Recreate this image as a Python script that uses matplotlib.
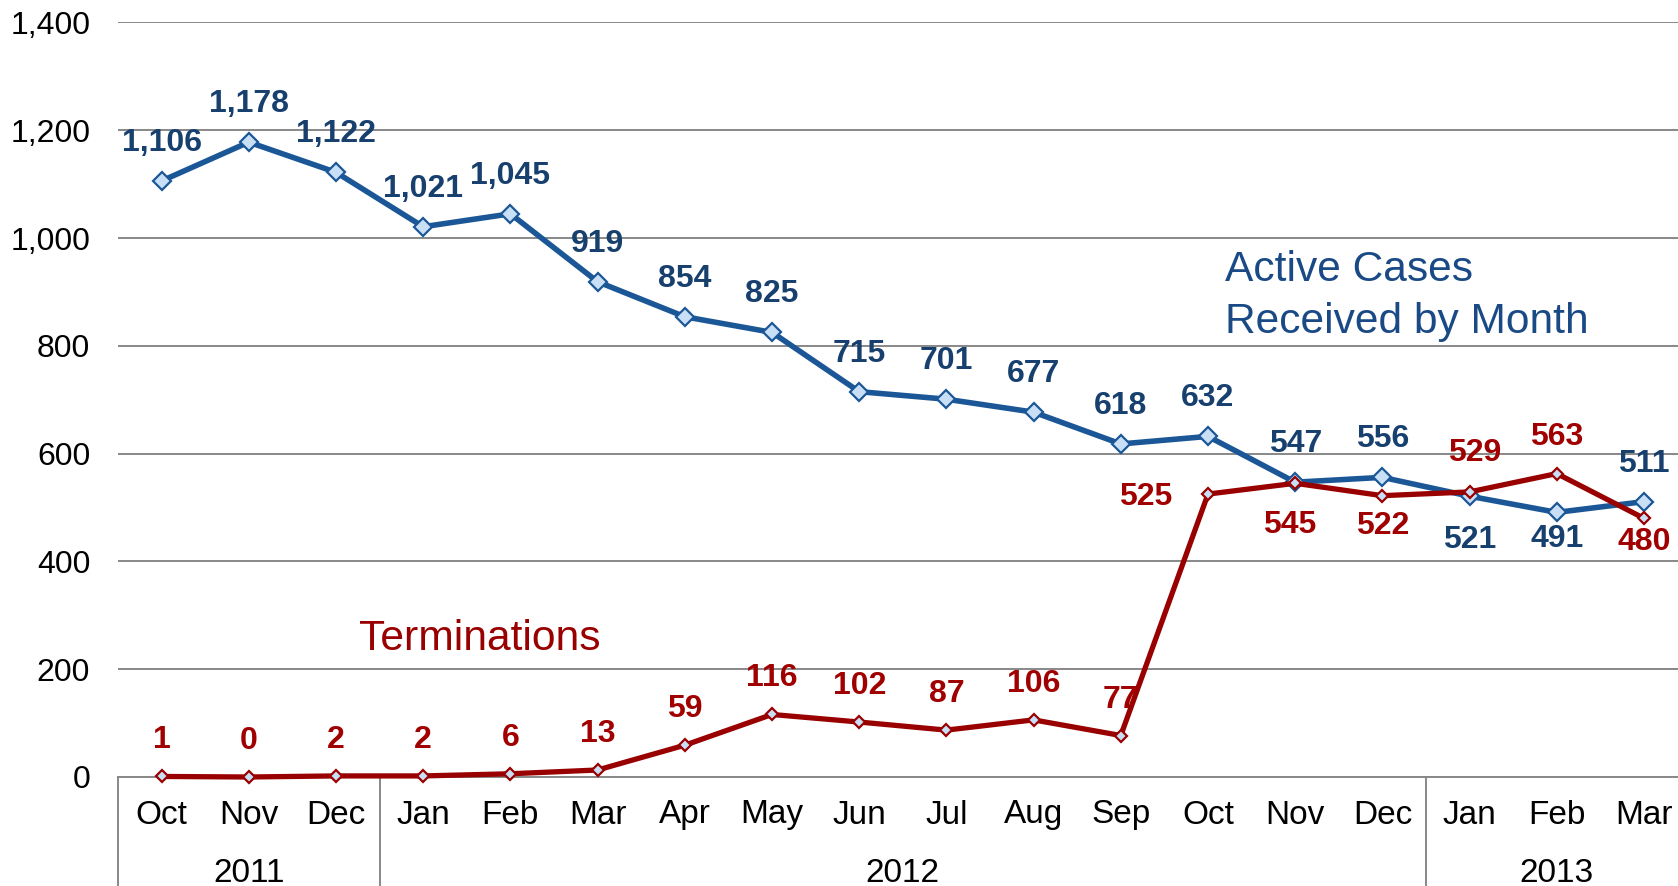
import matplotlib
matplotlib.use("Agg")
import matplotlib.pyplot as plt
from matplotlib.ticker import FuncFormatter

plt.rcParams['font.family'] = ['Liberation Sans', 'DejaVu Sans']

months = ["Oct", "Nov", "Dec", "Jan", "Feb", "Mar", "Apr", "May", "Jun",
          "Jul", "Aug", "Sep", "Oct", "Nov", "Dec", "Jan", "Feb", "Mar"]
years = ["2011", "2012", "2013"]
year_centers = [1, 8.5, 16]
year_breaks = [-0.5, 2.5, 14.5]
active = [1106, 1178, 1122, 1021, 1045, 919, 854, 825, 715, 701, 677, 618,
          632, 547, 556, 521, 491, 511]
terms = [1, 0, 2, 2, 6, 13, 59, 116, 102, 87, 106, 77, 525, 545, 522, 529,
         563, 480]

# label offsets (pixels): (dx, dy)
active_off = [(0, 38)] * 15 + [(0, -44), (0, -27), (0, 38)]
terms_off = [(0, 36)] * 12 + [(-62, -3), (-6, -42), (0, -30), (5, 39),
                              (0, 37), (0, -24)]

BLUE = "#1B5797"
BLUE_TXT = "#17406F"
RED = "#990000"
RED_TXT = "#A00000"
FACE = "#C8DFF6"

fig = plt.figure(figsize=(16.78, 8.86), dpi=100)
ax = fig.add_axes([118 / 1678, 109 / 886, 1569.6 / 1678, 754.5 / 886])

x = list(range(len(months)))
ax.plot(x, active, color=BLUE, lw=4.0, marker='D', ms=9.5, mfc=FACE,
        mec=BLUE, mew=1.6, zorder=4, clip_on=False)
ax.plot(x, terms, color=RED, lw=3.8, marker='D', ms=6.5, mfc=FACE,
        mec=RED, mew=1.6, zorder=5, clip_on=False)

for i, v in enumerate(active):
    dx, dy = active_off[i]
    ax.annotate(f"{v:,}", (i, v), xytext=(dx, dy), textcoords='offset pixels',
                ha='center', va='center', fontsize=23, fontweight='bold',
                color=BLUE_TXT, zorder=6, annotation_clip=False)
for i, v in enumerate(terms):
    dx, dy = terms_off[i]
    ax.annotate(f"{v:,}", (i, v), xytext=(dx, dy), textcoords='offset pixels',
                ha='center', va='center', fontsize=23, fontweight='bold',
                color=RED_TXT, zorder=6, annotation_clip=False)

ax.set_xlim(-0.5, 17.5)
ax.set_ylim(0, 1400)
ax.set_yticks(range(0, 1401, 200))
ax.yaxis.set_major_formatter(FuncFormatter(lambda v, p: f"{v:,.0f}"))
ax.tick_params(axis='y', length=0, pad=20, labelsize=23)
ax.set_xticks([])
ax.grid(axis='y', color='#888888', lw=1.4)
ax.set_axisbelow(True)
for s in ['top', 'right', 'left']:
    ax.spines[s].set_visible(False)
ax.spines['bottom'].set_color('#888888')
ax.spines['bottom'].set_linewidth(1.4)

# category labels
for i, m in enumerate(months):
    ax.annotate(m, (i, 0), xycoords=('data', 'axes fraction'),
                xytext=(0, -38), textcoords='offset pixels',
                ha='center', va='center', fontsize=24, color='black',
                annotation_clip=False)
for c, yname in zip(year_centers, years):
    ax.annotate(yname, (c, 0), xycoords=('data', 'axes fraction'),
                xytext=(0, -96), textcoords='offset pixels',
                ha='center', va='center', fontsize=24, color='black',
                annotation_clip=False)
for b in year_breaks:
    ax.plot([b, b], [0, -0.2], transform=ax.get_xaxis_transform(),
            color='#888888', lw=1.4, clip_on=False)

ax.text(12.2, 893, "Active Cases\nReceived by Month", fontsize=30.6,
        color="#1A4A86", ha='left', va='center', linespacing=1.38)
ax.text(2.26, 256, "Terminations", fontsize=30.7, color=RED,
        ha='left', va='center')

fig.savefig("out.png", dpi=100)
